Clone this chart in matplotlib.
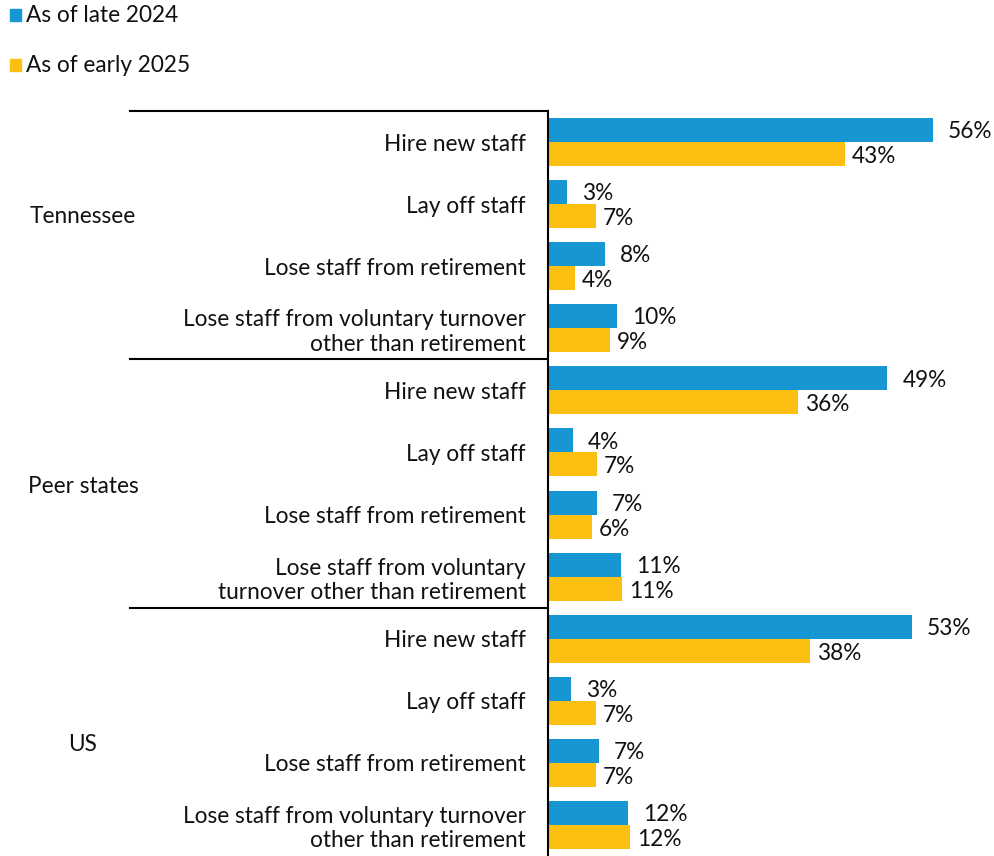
import matplotlib.pyplot as plt
import numpy as np
from matplotlib.patches import Rectangle

plt.rcParams['font.family'] = ['Lato', 'DejaVu Sans']

# Data
groups = ['Tennessee', 'Peer states', 'US']
categories = [
    'Hire new staff',
    'Lay off staff',
    'Lose staff from retirement',
    'Lose staff from voluntary turnover\nother than retirement',
    'Hire new staff',
    'Lay off staff',
    'Lose staff from retirement',
    'Lose staff from voluntary\nturnover other than retirement',
    'Hire new staff',
    'Lay off staff',
    'Lose staff from retirement',
    'Lose staff from voluntary turnover\nother than retirement',
]
late_2024 = [56.0, 2.8, 8.3, 10.0, 49.4, 3.6, 7.1, 10.6, 52.9, 3.3, 7.4, 11.6]
early_2025 = [43.2, 7.0, 3.9, 9.0, 36.4, 7.1, 6.4, 10.8, 38.1, 7.0, 7.0, 11.9]
series_names = ['As of late 2024', 'As of early 2025']

blue = '#1696d2'
yellow = '#fdbf11'
text_color = '#111111'
fs = 16.3

fig = plt.figure(figsize=(9.94, 8.56), dpi=100)
W, H = 994, 856
ax_left, ax_right, ax_top = 548, 994, 111
ax = fig.add_axes([ax_left / W, 0, (ax_right - ax_left) / W, 1 - ax_top / H])

y = np.arange(len(categories))
h = 0.386
ax.barh(y - h / 2, late_2024, height=h, color=blue)
ax.barh(y + h / 2, early_2025, height=h, color=yellow)

for yi, v in zip(y, late_2024):
    ax.annotate(f'{round(v)}%', (v, yi - h / 2), xytext=(11, -1.2), textcoords='offset points',
                va='center', ha='left', fontsize=fs, color=text_color)
for yi, v in zip(y, early_2025):
    ax.annotate(f'{round(v)}%', (v, yi + h / 2), xytext=(5, -1.8), textcoords='offset points',
                va='center', ha='left', fontsize=fs, color=text_color)

ax.set_ylim(len(categories) - 0.5, -0.5)
ax.set_xlim(0, 64.9)
ax.set_yticks(y)
ax.set_yticklabels(categories, fontsize=fs, color=text_color, ha='right')
ax.tick_params(axis='y', length=0, pad=16)
ax.set_xticks([])
for s in ['top', 'right', 'bottom']:
    ax.spines[s].set_visible(False)
ax.spines['left'].set_linewidth(1.5)
ax.spines['left'].set_color('black')

# group separators and labels
trans = ax.get_yaxis_transform()
x0 = (130 - ax_left) / (ax_right - ax_left)
for yl in [-0.5, 3.5, 7.5]:
    ax.plot([x0, 0], [yl, yl], transform=trans, color='black', lw=1.5, clip_on=False)

gx = (83 - ax_left) / (ax_right - ax_left)
for name, yg in zip(groups, [1.2, 5.55, 9.7]):
    ax.text(gx, yg, name, transform=trans, ha='center', va='center',
            fontsize=fs, color=text_color)

# legend
for i, (name, c) in enumerate(zip(series_names, [blue, yellow])):
    yc = 15 + i * 50
    fig.patches.append(Rectangle((10 / W, 1 - (yc + 6) / H), 11 / W, 12 / H,
                                 transform=fig.transFigure, color=c))
    fig.text(26 / W, 1 - (yc + 1) / H, name, ha='left', va='center', fontsize=fs, color=text_color)

fig.savefig('out.png', dpi=100)
